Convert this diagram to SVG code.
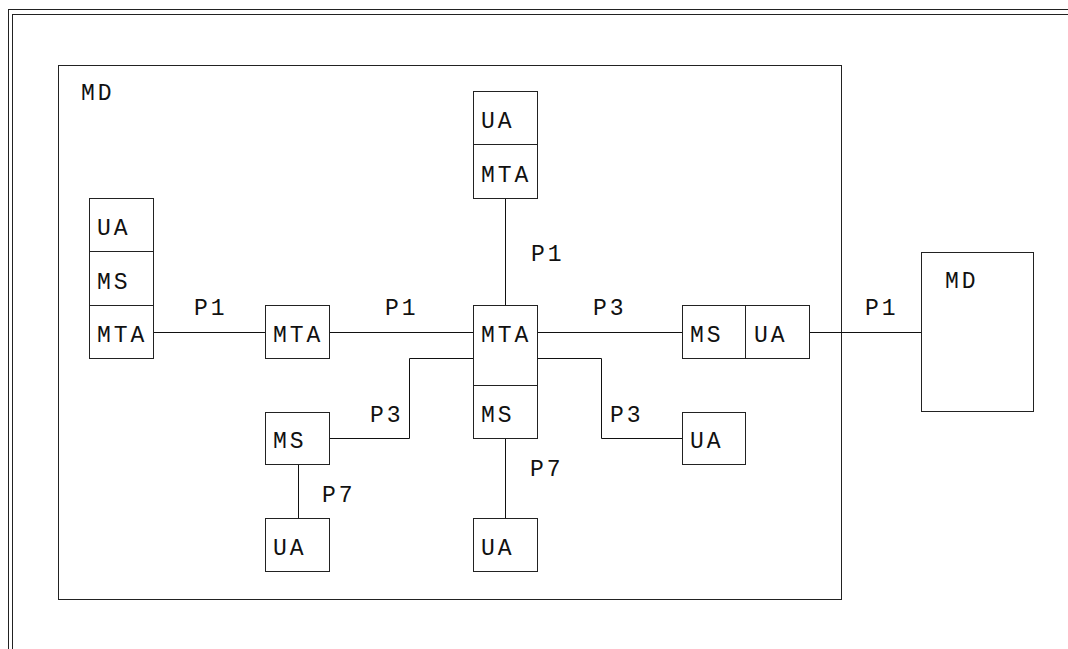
<svg xmlns="http://www.w3.org/2000/svg" width="1068" height="649" viewBox="0 0 1068 649">
<style>
.b{fill:#fff;stroke:#222;stroke-width:1}
.l{fill:none;stroke:#111;stroke-width:1}
.t{font-family:"Liberation Mono","DejaVu Sans Mono",monospace;font-size:23px;letter-spacing:3px;fill:#111}
</style>
<rect width="1068" height="649" fill="#fff"/>
<g id="frame">
<rect x="8.5" y="9.5" width="1100" height="700" fill="none" stroke="#222"/>
<rect x="12.5" y="14.5" width="1100" height="700" fill="none" stroke="#222"/>
</g>
<g id="md-main">
<rect class="b" x="58.5" y="65.5" width="783" height="534"/>
<text class="t" x="81" y="100">MD</text>
</g>
<g id="connectors">
<line class="l" x1="154" y1="332.5" x2="265" y2="332.5"/>
<line class="l" x1="330" y1="332.5" x2="473" y2="332.5"/>
<line class="l" x1="505.5" y1="198" x2="505.5" y2="305"/>
<line class="l" x1="538" y1="332.5" x2="682" y2="332.5"/>
<line class="l" x1="809" y1="332.5" x2="921" y2="332.5"/>
<polyline class="l" points="330,438.5 409.5,438.5 409.5,358.5 473,358.5"/>
<polyline class="l" points="538,358.5 601.5,358.5 601.5,438.5 682,438.5"/>
<line class="l" x1="298.5" y1="465" x2="298.5" y2="518"/>
<line class="l" x1="505.5" y1="439" x2="505.5" y2="518"/>
<text class="t" x="194" y="315">P1</text>
<text class="t" x="385" y="315">P1</text>
<text class="t" x="531" y="261">P1</text>
<text class="t" x="593" y="315">P3</text>
<text class="t" x="865" y="315">P1</text>
<text class="t" x="370" y="422">P3</text>
<text class="t" x="610" y="422">P3</text>
<text class="t" x="322" y="502">P7</text>
<text class="t" x="530" y="476">P7</text>
</g>
<g id="left-stack">
<rect class="b" x="89.5" y="198.5" width="64" height="53"/>
<rect class="b" x="89.5" y="251.5" width="64" height="54"/>
<rect class="b" x="89.5" y="305.5" width="64" height="53"/>
<text class="t" x="97" y="235">UA</text>
<text class="t" x="97" y="289">MS</text>
<text class="t" x="97" y="342">MTA</text>
</g>
<g id="mta-left">
<rect class="b" x="265.5" y="305.5" width="64" height="53"/>
<text class="t" x="273" y="342">MTA</text>
</g>
<g id="top-stack">
<rect class="b" x="473.5" y="91.5" width="64" height="53"/>
<rect class="b" x="473.5" y="144.5" width="64" height="54"/>
<text class="t" x="481" y="128">UA</text>
<text class="t" x="481" y="182">MTA</text>
</g>
<g id="center">
<rect class="b" x="473.5" y="305.5" width="64" height="80"/>
<rect class="b" x="473.5" y="385.5" width="64" height="53"/>
<text class="t" x="481" y="342">MTA</text>
<text class="t" x="481" y="422">MS</text>
</g>
<g id="ms-ua-right">
<rect class="b" x="682.5" y="305.5" width="63" height="53"/>
<rect class="b" x="745.5" y="305.5" width="64" height="53"/>
<text class="t" x="690" y="342">MS</text>
<text class="t" x="754" y="342">UA</text>
</g>
<g id="md-right">
<rect class="b" x="921.5" y="252.5" width="112" height="159"/>
<text class="t" x="945" y="288">MD</text>
</g>
<g id="ms-left">
<rect class="b" x="265.5" y="412.5" width="64" height="52"/>
<text class="t" x="273" y="448">MS</text>
</g>
<g id="ua-left">
<rect class="b" x="265.5" y="518.5" width="64" height="53"/>
<text class="t" x="273" y="555">UA</text>
</g>
<g id="ua-bottom">
<rect class="b" x="473.5" y="518.5" width="64" height="53"/>
<text class="t" x="481" y="555">UA</text>
</g>
<g id="ua-right">
<rect class="b" x="682.5" y="412.5" width="63" height="52"/>
<text class="t" x="690" y="448">UA</text>
</g>
</svg>
